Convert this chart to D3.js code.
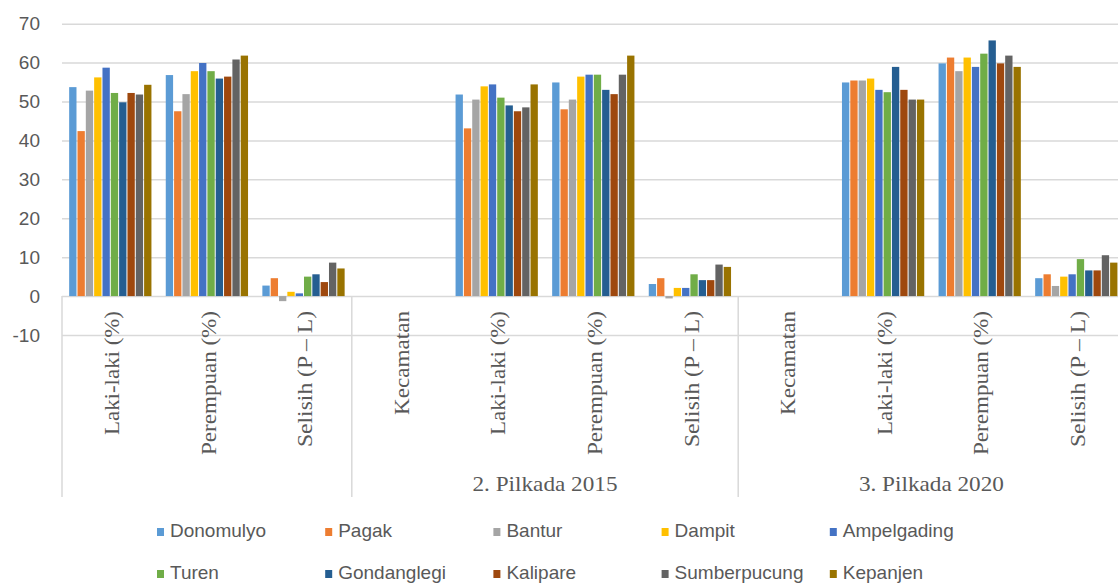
<!DOCTYPE html>
<html>
<head>
<meta charset="utf-8">
<script src="https://cdn.jsdelivr.net/npm/d3@7"></script>
<style>
  body { margin: 0; background: #fff; }
  svg { display: block; }
</style>
</head>
<body>
<script>
//category labels on the lower axis level
var categories = ["Laki-laki (%)", "Perempuan (%)", "Selisih (P \u2013 L)", "Kecamatan",
  "Laki-laki (%)", "Perempuan (%)", "Selisih (P \u2013 L)", "Kecamatan",
  "Laki-laki (%)", "Perempuan (%)", "Selisih (P \u2013 L)"];
//upper axis level: label, first category index, number of categories
var groupLabels = ["", "2. Pilkada 2015", "3. Pilkada 2020"];
var groupStart = [0, 3, 7];
var groupSize = [3, 4, 4];

var seriesNames = ["Donomulyo", "Pagak", "Bantur", "Dampit", "Ampelgading",
  "Turen", "Gondanglegi", "Kalipare", "Sumberpucung", "Kepanjen"];
var seriesColors = ["#5b9bd5", "#ed7d31", "#a5a5a5", "#ffc000", "#4472c4",
  "#70ad47", "#255e91", "#9e480e", "#636363", "#997300"];

//values per kecamatan, one per category (null = no bar)
var donomulyo    = [53.7, 56.8,  2.7, null, 51.8, 54.9,  3.1, null, 54.9, 59.8,  4.6];
var pagak        = [42.4, 47.5,  4.6, null, 43.1, 48.0,  4.6, null, 55.4, 61.3,  5.6];
var bantur       = [52.8, 51.9, -1.3, null, 50.5, 50.5, -0.6, null, 55.4, 57.8,  2.6];
var dampit       = [56.2, 57.8,  1.1, null, 53.9, 56.4,  2.1, null, 55.9, 61.3,  5.0];
var ampelgading  = [58.7, 59.9,  0.7, null, 54.4, 56.9,  2.1, null, 53.0, 58.9,  5.6];
var turen        = [52.2, 57.8,  5.0, null, 51.0, 56.9,  5.6, null, 52.4, 62.3,  9.5];
var gondanglegi  = [49.8, 55.9,  5.6, null, 49.0, 53.0,  4.1, null, 58.9, 65.7,  6.6];
var kalipare     = [52.2, 56.4,  3.6, null, 47.5, 51.9,  4.1, null, 53.0, 59.8,  6.6];
var sumberpucung = [51.8, 60.8,  8.6, null, 48.5, 56.9,  8.1, null, 50.5, 61.8, 10.5];
var kepanjen     = [54.3, 61.8,  7.1, null, 54.4, 61.8,  7.5, null, 50.5, 58.9,  8.6];

var yTicks = [-10, 0, 10, 20, 30, 40, 50, 60, 70];

var seriesValues = [donomulyo, pagak, bantur, dampit, ampelgading,
  turen, gondanglegi, kalipare, sumberpucung, kepanjen];

var width = 1118, height = 583;
var textColor = "#595959", gridColor = "#d9d9d9";

var svg = d3.select("body").append("svg")
  .attr("width", width)
  .attr("height", height);

//scales
var catIndex = d3.range(categories.length);
var x = d3.scaleBand()
  .domain(catIndex)
  .range([62, 62 + 96.6 * categories.length])
  .paddingInner(0).paddingOuter(0);

var x1 = d3.scaleBand()
  .domain(seriesNames)
  .range([0, x.bandwidth()])
  .paddingInner(0)
  .paddingOuter(0.8);

var y = d3.scaleLinear()
  .domain([-10, 70])
  .range([335, 23.7]);

//gridlines + y labels (plain hyphen for negatives)
var yAxis = d3.axisLeft(y)
  .tickValues(yTicks)
  .tickFormat(function(d){ return String(d); })
  .tickSize(-(width - 62))
  .tickPadding(22);

var gy = svg.append("g")
  .attr("transform", "translate(62,0)")
  .call(yAxis);
gy.select(".domain").remove();
gy.selectAll(".tick line")
  .attr("stroke", gridColor)
  .attr("stroke-width", 1.5);
gy.selectAll(".tick text")
  .attr("fill", textColor)
  .style("font-family", "'Liberation Sans', Arial, sans-serif")
  .style("font-size", "19px");

//bars
var layer = svg.append("g").attr("class", "bars");
seriesNames.forEach(function(name, s){
  var rows = catIndex.map(function(i){ return {i: i, v: seriesValues[s][i]}; })
    .filter(function(d){ return d.v !== null; });
  layer.selectAll(".bar-" + s)
    .data(rows)
    .enter()
    .append("rect")
    .attr("class", "bar-" + s)
    .attr("x", function(d){ return x(d.i) + x1(name) + 0.5; })
    .attr("width", x1.bandwidth() - 1)
    .attr("y", function(d){ return y(Math.max(0, d.v)); })
    .attr("height", function(d){ return Math.abs(y(d.v) - y(0)); })
    .style("fill", seriesColors[s]);
});

//category axis: vertical separators at group borders
var axisBottom = 497;
var borders = groupStart.concat([categories.length]);
svg.selectAll(".sep")
  .data(borders)
  .enter()
  .append("line")
  .attr("class", "sep")
  .attr("x1", function(d){ return d < categories.length ? x(d) : x.range()[1]; })
  .attr("x2", function(d){ return d < categories.length ? x(d) : x.range()[1]; })
  .attr("y1", y(0))
  .attr("y2", axisBottom)
  .attr("stroke", gridColor)
  .attr("stroke-width", 1.5);

//rotated category labels
var labelLen = {"Laki-laki (%)": 124, "Perempuan (%)": 144, "Selisih (P \u2013 L)": 136, "Kecamatan": 104};
svg.selectAll(".cat")
  .data(catIndex)
  .enter()
  .append("text")
  .attr("class", "cat")
  .attr("transform", function(i){
    return "translate(" + (x(i) + x.bandwidth() / 2 + 1) + ",311) rotate(-90)";
  })
  .attr("text-anchor", "end")
  .attr("dy", "0.35em")
  .attr("textLength", function(i){ return labelLen[categories[i]]; })
  .attr("lengthAdjust", "spacingAndGlyphs")
  .attr("fill", textColor)
  .style("font-family", "'Liberation Serif', 'Times New Roman', serif")
  .style("font-size", "22px")
  .text(function(i){ return categories[i]; });

//group labels
svg.selectAll(".grp")
  .data(groupLabels)
  .enter()
  .append("text")
  .attr("class", "grp")
  .attr("x", function(d, g){
    return x(groupStart[g]) + x.bandwidth() * groupSize[g] / 2;
  })
  .attr("y", 491)
  .attr("text-anchor", "middle")
  .attr("textLength", function(d){ return d ? 145 : null; })
  .attr("lengthAdjust", "spacingAndGlyphs")
  .attr("fill", textColor)
  .style("font-family", "'Liberation Serif', 'Times New Roman', serif")
  .style("font-size", "22px")
  .text(function(d){ return d; });

//legend, two rows of five
var legend = svg.selectAll(".legend")
  .data(seriesNames)
  .enter()
  .append("g")
  .attr("class", "legend")
  .attr("transform", function(d, i){
    return "translate(" + (157 + (i % 5) * 168.2) + "," + (i < 5 ? 0 : 42) + ")";
  });
legend.append("rect")
  .attr("x", 0)
  .attr("y", 528)
  .attr("width", 7)
  .attr("height", 8)
  .style("fill", function(d, i){ return seriesColors[i]; });
legend.append("text")
  .attr("x", 13)
  .attr("y", 537)
  .attr("fill", textColor)
  .style("font-family", "'Liberation Sans', Arial, sans-serif")
  .style("font-size", "19px")
  .text(function(d){ return d; });
</script>
</body>
</html>
